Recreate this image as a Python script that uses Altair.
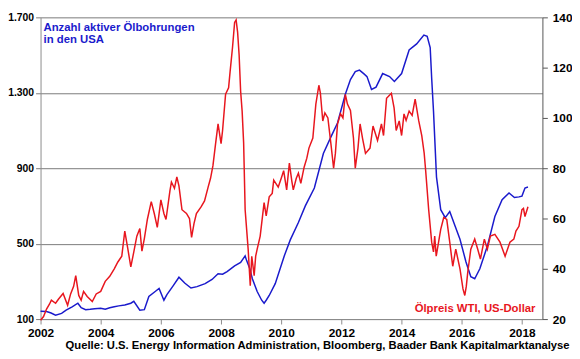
import altair as alt
import pandas as pd

# --- Data ---
rig_year = [2002.0, 2002.2, 2002.35, 2002.5, 2002.7, 2002.85, 2003.05, 2003.24, 2003.35, 2003.5, 2003.65,
            2003.8, 2004.0, 2004.15, 2004.3, 2004.45, 2004.6, 2004.8, 2005.0, 2005.1, 2005.3, 2005.45,
            2005.6, 2005.8, 2005.94, 2006.1, 2006.2, 2006.4, 2006.6, 2006.8, 2007.0, 2007.2, 2007.47,
            2007.7, 2007.9, 2008.05, 2008.2, 2008.45, 2008.65, 2008.8, 2008.85, 2008.95, 2009.04, 2009.2,
            2009.35, 2009.43, 2009.5, 2009.6, 2009.8, 2010.1, 2010.3, 2010.57, 2010.8, 2011.1, 2011.4,
            2011.64, 2011.87, 2012.13, 2012.3, 2012.46, 2012.6, 2012.75, 2012.85, 2013.0, 2013.15, 2013.37,
            2013.6, 2013.76, 2014.0, 2014.25, 2014.5, 2014.74, 2014.85, 2014.95, 2015.0, 2015.06, 2015.16,
            2015.3, 2015.45, 2015.6, 2015.78, 2015.94, 2016.14, 2016.3, 2016.43, 2016.6, 2016.85, 2017.1,
            2017.34, 2017.57, 2017.75, 2017.9, 2018.0, 2018.1, 2018.2]
rig_count = [142, 140, 132, 121, 130, 147, 165, 184, 160, 150, 152,
             155, 157, 152, 160, 165, 170, 175, 184, 194, 147, 150,
             220, 245, 262, 200, 230, 275, 322, 290, 265, 272, 288,
             310, 340, 338, 352, 382, 400, 435, 410, 370, 314, 246,
             200, 184, 200, 225, 288, 435, 520, 612, 700, 795, 978,
             1062, 1140, 1292, 1370, 1412, 1420, 1400, 1386, 1318, 1330, 1402,
             1386, 1360, 1402, 1527, 1559, 1606, 1600, 1540, 1376, 1203, 853,
             680, 638, 670, 592, 523, 403, 325, 314, 367, 487, 644,
             733, 769, 745, 748, 752, 795, 800]

wti_year = [2002.0, 2002.1, 2002.2, 2002.3, 2002.36, 2002.5, 2002.6, 2002.75, 2002.9, 2003.0, 2003.1,
            2003.17, 2003.27, 2003.35, 2003.43, 2003.55, 2003.72, 2003.85, 2004.0, 2004.15, 2004.3,
            2004.45, 2004.57, 2004.7, 2004.8, 2004.9, 2005.0, 2005.1, 2005.2, 2005.3, 2005.37, 2005.45,
            2005.55, 2005.68, 2005.78, 2005.88, 2006.0, 2006.1, 2006.17, 2006.3, 2006.35, 2006.45, 2006.53,
            2006.6, 2006.7, 2006.85, 2006.95, 2007.02, 2007.1, 2007.18, 2007.34, 2007.45, 2007.57, 2007.65,
            2007.73, 2007.82, 2007.9, 2008.0, 2008.05, 2008.15, 2008.25, 2008.3, 2008.38, 2008.45, 2008.5,
            2008.55, 2008.6, 2008.65, 2008.7, 2008.75, 2008.8, 2008.9, 2008.97, 2009.02, 2009.1, 2009.15,
            2009.2, 2009.3, 2009.43, 2009.5, 2009.6, 2009.7, 2009.75, 2009.9, 2010.0, 2010.08, 2010.18,
            2010.27, 2010.35, 2010.4, 2010.5, 2010.57, 2010.65, 2010.76, 2010.85, 2010.92, 2011.05, 2011.15,
            2011.25, 2011.3, 2011.38, 2011.45, 2011.55, 2011.65, 2011.74, 2011.8, 2011.87, 2011.97, 2012.05,
            2012.13, 2012.2, 2012.3, 2012.4, 2012.46, 2012.55, 2012.62, 2012.7, 2012.8, 2012.95, 2013.05,
            2013.2, 2013.33, 2013.4, 2013.5, 2013.66, 2013.75, 2013.82, 2013.92, 2014.0, 2014.08, 2014.15,
            2014.25, 2014.35, 2014.45, 2014.57, 2014.67, 2014.75, 2014.8, 2014.9, 2015.0, 2015.06, 2015.1,
            2015.15, 2015.3, 2015.4, 2015.5, 2015.6, 2015.7, 2015.8, 2015.94, 2016.04, 2016.1, 2016.15,
            2016.2, 2016.3, 2016.43, 2016.53, 2016.62, 2016.75, 2016.85, 2016.95, 2017.1, 2017.27, 2017.44,
            2017.6, 2017.73, 2017.8, 2017.9, 2018.0, 2018.05, 2018.1, 2018.2]
wti_price = [19.5, 21, 24, 26, 27.5, 26.3, 28, 30.2, 25.5, 30, 33,
             37.3, 29.4, 27.5, 31, 29, 27, 30, 31, 35, 37,
             40, 42.7, 45, 55, 48, 40.8, 46.7, 53, 56, 47, 52,
             59.6, 66.7, 62, 56.5, 67.4, 62, 59.6, 71, 74.5, 72, 76.5,
             73, 63.5, 62, 60, 52.5, 58, 62, 64.7, 67, 72.5, 76,
             81, 90, 97.6, 89.8, 95, 109.4, 112, 118.4, 128, 138, 139,
             134, 125, 110.6, 102.7, 90, 63.5, 47.8, 33.3, 45, 37.3, 45,
             47.8, 53, 66.3, 61, 68.6, 70, 75.3, 72.5, 76, 79, 71.4,
             82, 75, 71.4, 76, 78, 74, 80.4, 84, 88, 92, 105.5,
             113, 110, 98.8, 102, 100, 89.8, 80, 86, 97.6, 101.6, 100,
             109.4, 105.5, 103, 92, 80, 88, 97.6, 92, 85.9, 88, 96.8,
             91, 97.6, 93, 107.8, 109.8, 104, 95, 98.8, 93, 101.6, 99,
             102.7, 101, 107.5, 98.8, 93, 86, 79, 63.5, 50.6, 46.7, 53,
             45, 55.7, 60.4, 59.6, 50.6, 41, 47.8, 40, 32, 29.4, 33,
             38.8, 47.8, 51.8, 47.8, 43.9, 51.8, 47.8, 53, 53.7, 50.6, 45,
             50.6, 51.8, 55, 56.9, 63.5, 64, 60.8, 64.7]

x_ticks = [2002, 2004, 2006, 2008, 2010, 2012, 2014, 2016, 2018]
left_ticks = [100, 500, 900, 1300, 1700]
right_ticks = [20, 40, 60, 80, 100, 120, 140]

blue_title = ["Anzahl aktiver Ölbohrungen", "in den USA"]
red_title = "Ölpreis WTI, US-Dollar"
source = "Quelle: U.S. Energy Information Administration, Bloomberg, Baader Bank Kapitalmarktanalyse"

BLUE = "#1a1acc"
RED = "#e8161e"
FONT = "Liberation Sans"
PAD_L, PAD_T = 33, 7
W, H = 509, 306
SVG_W, SVG_H = 572, 351

rigs = pd.DataFrame({"year": rig_year, "value": rig_count})
wti = pd.DataFrame({"year": wti_year, "value": wti_price})

xscale = alt.Scale(domain=[2002, 2018.68], nice=False, zero=False)
xaxis = alt.Axis(values=x_ticks, format="d", title=None, grid=False,
                 labelFont=FONT, labelFontSize=12, labelFontWeight="bold", labelColor="black",
                 domainColor="#8c8c8c", tickColor="#8c8c8c", tickSize=5, labelPadding=4,
                 labelFlush=False)

blue_line = alt.Chart(rigs).mark_line(color=BLUE, strokeWidth=1.5).encode(
    x=alt.X("year:Q", scale=xscale, axis=xaxis),
    y=alt.Y("value:Q", scale=alt.Scale(domain=[100, 1700], nice=False, zero=False),
            axis=alt.Axis(orient="left", values=left_ticks, title=None, grid=True,
                          gridColor="#7a7a7a", gridWidth=1, gridOpacity=1,
                          labelExpr="replace(format(datum.value, ','), ',', '.')",
                          labelFont=FONT, labelFontSize=10.5, labelFontWeight="bold",
                          labelColor="black", domainColor="#8c8c8c", tickColor="#7a7a7a",
                          tickSize=5, labelPadding=2)),
)

red_line = alt.Chart(wti).mark_line(color=RED, strokeWidth=1.5).encode(
    x=alt.X("year:Q", scale=xscale, axis=xaxis),
    y=alt.Y("value:Q", scale=alt.Scale(domain=[20, 140], nice=False, zero=False),
            axis=alt.Axis(orient="right", values=right_ticks, title=None, grid=False,
                          labelFont=FONT, labelFontSize=12, labelFontWeight="bold",
                          labelColor="black", domainColor="#555555", tickColor="#555555",
                          tickSize=5, labelPadding=5)),
)

titles = pd.DataFrame({"text": blue_title, "row": [0, 1]})
blue_text = alt.Chart(titles).mark_text(
    font=FONT, fontSize=11.5, fontWeight="bold", color=BLUE, align="left", baseline="alphabetic"
).encode(
    text="text:N", x=alt.value(3), y=alt.value(14)
).transform_filter("datum.row == 0")

blue_text2 = alt.Chart(titles).mark_text(
    font=FONT, fontSize=11.5, fontWeight="bold", color=BLUE, align="left", baseline="alphabetic"
).encode(
    text="text:N", x=alt.value(3), y=alt.value(26.5)
).transform_filter("datum.row == 1")

red_text = alt.Chart(pd.DataFrame({"text": [red_title]})).mark_text(
    font=FONT, fontSize=11.5, fontWeight="bold", color=RED, align="right", baseline="alphabetic"
).encode(text="text:N", x=alt.value(502), y=alt.value(299))

src_text = alt.Chart(pd.DataFrame({"text": [source]})).mark_text(
    font=FONT, fontSize=11.4, fontWeight="bold", color="black", align="center", baseline="alphabetic"
).encode(text="text:N", x=alt.value(322 - 8 - PAD_L), y=alt.value(336.5))

chart = alt.layer(blue_line, red_line, blue_text, blue_text2, red_text, src_text).resolve_scale(
    y="independent"
).properties(
    width=W, height=H,
    autosize=alt.AutoSizeParams(type="none"),
    padding={"left": PAD_L, "top": PAD_T, "right": SVG_W - PAD_L - W, "bottom": SVG_H - PAD_T - H},
).configure_view(stroke=None)

chart.save("out.html", embed_options={"renderer": "svg", "actions": False})
